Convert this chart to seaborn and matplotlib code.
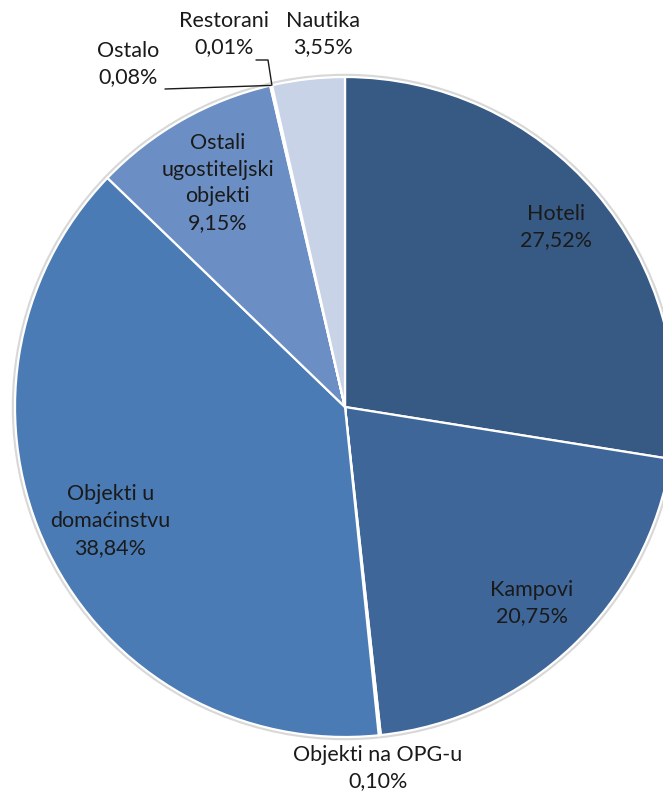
import numpy as np
import matplotlib
matplotlib.use("Agg")
import matplotlib.pyplot as plt
import seaborn as sns

categories = ["Hoteli", "Kampovi", "Objekti na OPG-u", "Objekti u domaćinstvu",
              "Ostali ugostiteljski objekti", "Ostalo", "Restorani", "Nautika"]
label_text = ["Hoteli", "Kampovi", "Objekti na OPG-u", "Objekti u\ndomaćinstvu",
              "Ostali\nugostiteljski\nobjekti", "Ostalo", "Restorani", "Nautika"]
values = [27.52, 20.75, 0.10, 38.84, 9.15, 0.08, 0.01, 3.55]
colors = ["#365a84", "#3e6699", "#4370aa", "#4a7bb5", "#6b8fc4", "#8fa9d6", "#a9bce0", "#c9d3e7"]

sns.set_theme(style="white")
plt.rcParams['font.family'] = ['Lato', 'DejaVu Sans']

W, H = 663, 796
fig = plt.figure(figsize=(W / 100, H / 100), dpi=100)
ax = fig.add_axes([0, 0, 1, 1])

cx, cy, R = 345, H - 407, 330
# soft outline behind the pie
ax.add_patch(plt.Circle((cx, cy), R + 1.5, facecolor="none", edgecolor="#d8d8d8", lw=2.5, zorder=0))
wedges, _ = ax.pie(values, startangle=90, counterclock=False, center=(cx, cy), radius=R,
                   colors=colors, wedgeprops=dict(edgecolor="white", linewidth=1.6))
ax.set_xlim(0, W)
ax.set_ylim(0, H)
ax.set_aspect("equal")
ax.axis("off")

def fmt(v):
    return f"{v:.2f}".replace(".", ",") + "%"

txt_kw = dict(fontsize=15.5, color="#1a1a1a", ha="center", va="center", linespacing=1.42)

# inside labels at a fraction of the radius along wedge mid-angle
inside = {0: 0.84, 1: 0.82, 3: 0.79, 4: 0.78}
for i, frac in inside.items():
    w = wedges[i]
    ang = np.deg2rad((w.theta1 + w.theta2) / 2)
    x = cx + frac * R * np.cos(ang)
    y = cy + frac * R * np.sin(ang)
    ax.text(x, y, f"{label_text[i]}\n{fmt(values[i])}", **txt_kw)

def mid_point(i, r=1.0):
    w = wedges[i]
    ang = np.deg2rad((w.theta1 + w.theta2) / 2)
    return cx + r * R * np.cos(ang), cy + r * R * np.sin(ang)

# outside labels
ax.text(378, H - 768, f"{label_text[2]}\n{fmt(values[2])}", **txt_kw)
ax.text(323, H - 34, f"{label_text[7]}\n{fmt(values[7])}", **txt_kw)
ax.text(224, H - 34, f"{label_text[6]}\n{fmt(values[6])}", **txt_kw)
ax.text(128, H - 64, f"{label_text[5]}\n{fmt(values[5])}", **txt_kw)

# leader lines
px, py = mid_point(5)
ax.plot([165, px], [H - 89, py], color="#1a1a1a", lw=1.0)
px, py = mid_point(6)
ax.plot([256, 268, px], [H - 60, H - 60, py], color="#1a1a1a", lw=1.0)

fig.savefig("out.png", dpi=100, facecolor="white")
